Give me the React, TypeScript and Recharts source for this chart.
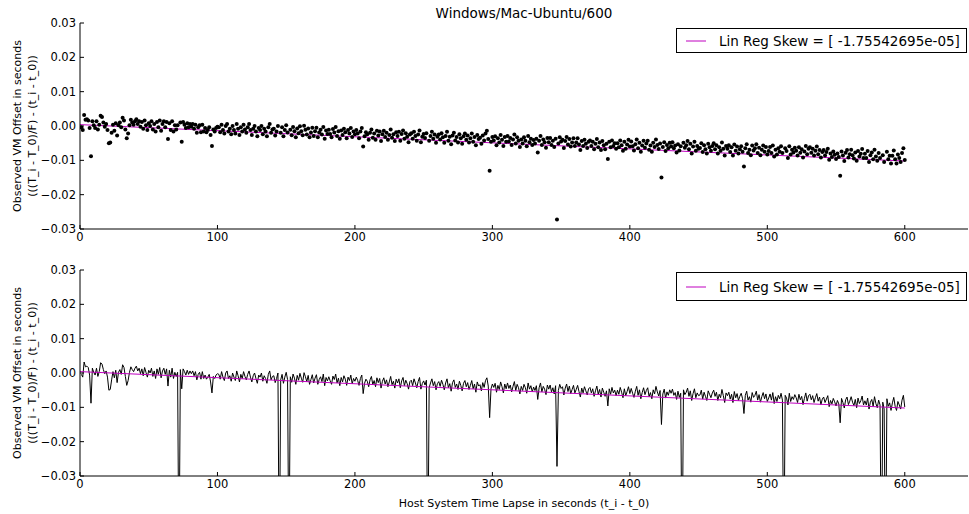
import { ComposedChart, Scatter, Line, XAxis, YAxis, Legend } from 'recharts'

// observed VM offset (s), one sample per second of host time
const offsets = [
  -0.0004, -0.0012, 0.0032, 0.0018, 0.002, 0.0016, -0.0006, -0.0088, 0.0014, 0.0002,
  -0.0006, 0.0014, -0.001, 0.0004, 0.003, 0.0026, 0.001, -0.0002, 0.0006, -0.0012,
  -0.005, -0.0048, -0.002, 0.0004, -0.0014, 0.0008, -0.0028, 0.0002, 0.001, -0.0004,
  0.0024, 0.0016, -0.001, -0.0036, -0.0022, 0.0002, 0.0018, 0.001, 0.0004, 0.0014,
  0.002, 0.0006, 0.0014, -0.0002, 0.0012, -0.0008, 0.0016, 0.0002, -0.0012, 0.0008,
  0.0, 0.0014, -0.001, 0.0006, -0.0016, 0.0012, -0.0004, 0.0016, -0.0014, 0.0006,
  0.0014, -0.0004, 0.0012, -0.0038, 0.0008, -0.0012, 0.0014, -0.0016, 0.0002, -0.001,
  0.0002, -0.06, 0.001, -0.0046, 0.0012, 0.0004, -0.0006, 0.0008, -0.0004, 0.0006,
  -0.0002, 0.0006, -0.0008, 0.0004, -0.002, -0.0004, 0.0002, -0.0018, 0.0004, -0.0016,
  -0.0006, -0.0018, -0.0012, -0.0004, -0.0026, -0.0058, -0.001, -0.0016, -0.0006, -0.0002,
  -0.0004, -0.0018, 0.0004, -0.0012, -0.0022, 0.0, 0.0006, -0.0016, -0.0008, -0.0024,
  0.0, -0.0012, -0.0022, 0.0006, -0.0008, -0.0026, -0.0004, -0.0016, 0.0004, -0.001,
  -0.002, -0.0004, 0.0006, -0.0012, -0.0026, -0.0008, 0.0, -0.0016, -0.003, -0.0006,
  -0.0012, 0.0, -0.0024, -0.0008, -0.0016, -0.003, -0.0004, 0.0006, -0.002, -0.001,
  -0.0008, -0.0028, -0.0016, 0.0, -0.06, -0.002, -0.0004, -0.003, -0.0012, 0.0002,
  -0.0019, -0.06, -0.0011, -0.0027, -0.0003, -0.0015, -0.0033, -0.0007, -0.0021, -0.0001,
  -0.0015, -0.0027, 0.0001, -0.0011, -0.0025, -0.0007, -0.0033, -0.0019, -0.0005, -0.0029,
  -0.0015, -0.0005, -0.0033, -0.0019, -0.0011, -0.0025, -0.0003, -0.0037, -0.0013, -0.0023,
  -0.0011, -0.0023, -0.0033, -0.0009, -0.0019, -0.0003, -0.0029, -0.0015, -0.0037, -0.0013,
  -0.0026, -0.0008, -0.0018, -0.0036, -0.0012, -0.0022, -0.0006, -0.0032, -0.0016, -0.0024,
  -0.0012, -0.0022, -0.0036, -0.0016, -0.0006, -0.006, -0.003, -0.0018, -0.0024, -0.004,
  -0.002, -0.001, -0.0034, -0.0022, -0.004, -0.0014, -0.0028, -0.0016, -0.0044, -0.0024,
  -0.0014, -0.0032, -0.002, -0.004, -0.0026, -0.001, -0.0034, -0.0024, -0.0044, -0.0018,
  -0.0029, -0.0017, -0.0043, -0.0023, -0.0013, -0.0037, -0.0021, -0.0031, -0.0047, -0.0025,
  -0.0021, -0.0037, -0.0017, -0.0029, -0.0043, -0.0025, -0.0013, -0.0047, -0.0031, -0.0023,
  -0.0035, -0.0021, -0.06, -0.0043, -0.0029, -0.0017, -0.0037, -0.0025, -0.0049, -0.0031,
  -0.0025, -0.0039, -0.0021, -0.0033, -0.0049, -0.0029, -0.0017, -0.0043, -0.0031, -0.0053,
  -0.0028, -0.002, -0.0042, -0.0032, -0.0048, -0.0024, -0.0036, -0.0052, -0.003, -0.0022,
  -0.004, -0.0028, -0.0048, -0.0036, -0.0022, -0.0046, -0.0032, -0.0056, -0.0026, -0.0038,
  -0.0034, -0.0052, -0.0028, -0.0042, -0.0022, -0.0014, -0.0038, -0.013, -0.0046, -0.0032,
  -0.0042, -0.003, -0.0056, -0.0036, -0.0048, -0.0026, -0.004, -0.0058, -0.0032, -0.0046,
  -0.0029, -0.0045, -0.0035, -0.0055, -0.0039, -0.0025, -0.0051, -0.0033, -0.0043, -0.0061,
  -0.0039, -0.0051, -0.0033, -0.0043, -0.0059, -0.0029, -0.0047, -0.0037, -0.0055, -0.0041,
  -0.0051, -0.0037, -0.0077, -0.0043, -0.0029, -0.0055, -0.0039, -0.0047, -0.0063, -0.0035,
  -0.0047, -0.0035, -0.0055, -0.0043, -0.0061, -0.0037, -0.0272, -0.0051, -0.0033, -0.0045,
  -0.004, -0.0064, -0.0044, -0.0032, -0.0054, -0.0038, -0.006, -0.0048, -0.0036, -0.0058,
  -0.0048, -0.0036, -0.0054, -0.007, -0.0044, -0.0058, -0.004, -0.0052, -0.0064, -0.0046,
  -0.0042, -0.0058, -0.0046, -0.0068, -0.0052, -0.0038, -0.0062, -0.0048, -0.007, -0.0044,
  -0.0056, -0.0068, -0.0052, -0.0096, -0.0046, -0.0062, -0.0042, -0.0058, -0.005, -0.0066,
  -0.005, -0.0062, -0.0042, -0.0056, -0.0072, -0.0046, -0.0066, -0.0054, -0.004, -0.006,
  -0.0045, -0.0059, -0.0071, -0.0053, -0.0039, -0.0065, -0.0049, -0.0075, -0.0057, -0.0043,
  -0.0063, -0.0051, -0.0043, -0.0069, -0.0057, -0.0075, -0.0049, -0.0061, -0.0039, -0.0055,
  -0.0067, -0.0051, -0.015, -0.0061, -0.0047, -0.0073, -0.0055, -0.0065, -0.0049, -0.0059,
  -0.0047, -0.0065, -0.0057, -0.0077, -0.0053, -0.0071, -0.0059, -0.06, -0.0049, -0.0063,
  -0.0056, -0.0044, -0.0068, -0.0052, -0.008, -0.006, -0.0046, -0.0072, -0.0058, -0.0066,
  -0.0064, -0.005, -0.0076, -0.0056, -0.0068, -0.008, -0.0052, -0.0062, -0.0072, -0.0058,
  -0.005, -0.0068, -0.0056, -0.008, -0.0062, -0.0072, -0.0048, -0.0066, -0.0086, -0.0058,
  -0.0066, -0.0056, -0.0076, -0.0062, -0.0086, -0.0054, -0.0072, -0.006, -0.008, -0.0068,
  -0.0059, -0.0075, -0.0118, -0.0065, -0.0053, -0.0079, -0.0069, -0.0085, -0.0057, -0.0071,
  -0.0065, -0.0053, -0.0079, -0.0063, -0.0085, -0.0069, -0.0057, -0.0075, -0.0061, -0.0083,
  -0.0073, -0.0061, -0.0079, -0.0057, -0.0089, -0.0069, -0.0083, -0.0065, -0.0075, -0.0059,
  -0.0079, -0.06, -0.0065, -0.0073, -0.0093, -0.0059, -0.0083, -0.0069, -0.0077, -0.0063,
  -0.0072, -0.0086, -0.0062, -0.0078, -0.0068, -0.0092, -0.0074, -0.0058, -0.0082, -0.0066,
  -0.0062, -0.0078, -0.0066, -0.0086, -0.0072, -0.006, -0.0082, -0.007, -0.0092, -0.0076,
  -0.007, -0.0086, -0.0076, -0.0066, -0.0098, -0.008, -0.009, -0.0074, -0.0084, -0.0096,
  -0.008, -0.009, -0.0145, -0.0074, -0.0086, -0.0102, -0.0078, -0.007, -0.0092, -0.0082,
  -0.0069, -0.0085, -0.0095, -0.0077, -0.0101, -0.0073, -0.0089, -0.0081, -0.0067, -0.0093,
  -0.0081, -0.0093, -0.0073, -0.0105, -0.0085, -0.0077, -0.0097, -0.0069, -0.0089, -0.0101,
  -0.0079, -0.0093, -0.06, -0.0085, -0.0105, -0.06, -0.0075, -0.0097, -0.0087, -0.0109,
  -0.0087, -0.0071, -0.0097, -0.0109, -0.0083, -0.0093, -0.0105, -0.0079, -0.0065, -0.0099,
]
const hostTime = offsets.map((_, i) => i + 1)

// linear regression line end points
const fitTime = [0, 600]
const fitOffset = [0.0004, -0.0102]

const xTicks = [0, 100, 200, 300, 400, 500, 600]
const yTicks = [-0.03, -0.02, -0.01, 0, 0.01, 0.02, 0.03]

const title = 'Windows/Mac-Ubuntu/600'
const fitLabel = 'Lin Reg Skew = [ -1.75542695e-05]'
const yLabelLines = ['Observed VM Offset in seconds', '(((T_i - T_0)/F) - (t_i - t_0))']
const xLabel = 'Host System Time Lapse in seconds (t_i - t_0)'

const rows = hostTime.map((t, i) => ({ t, offset: offsets[i] }))
const fitRows = fitTime.map((t, i) => ({ t, fit: fitOffset[i] }))

const FONT = 'DejaVu Sans'
const MAGENTA = '#bf00bf'
const tickStyle = { fontSize: 11.5, fill: '#000', fontFamily: FONT }

const fmtY = (v: number) => (v < 0 ? '\u2212' : '') + Math.abs(v).toFixed(2)

function renderYLabel(props: any) {
  const vb = props.viewBox || { y: 0, height: 0 }
  const cy = vb.y + vb.height / 2
  return (
    <g>
      {yLabelLines.map((line, i) => (
        <text
          key={i}
          x={16.7 + i * 15}
          y={cy}
          dy="0.35em"
          transform={`rotate(-90 ${16.7 + i * 15} ${cy})`}
          textAnchor="middle"
          fontSize={11}
          fontFamily={FONT}
          fill="#000"
        >
          {line}
        </text>
      ))}
    </g>
  )
}

function renderXLabel(props: any) {
  const vb = props.viewBox || { x: 0, y: 0, width: 0 }
  return (
    <text x={vb.x + vb.width / 2} y={vb.y + 30.5} textAnchor="middle" fontSize={11} fontFamily={FONT} fill="#000">
      {xLabel}
    </text>
  )
}

function makeLegend(height: number) {
  return (props: any) => {
    const label = props.payload?.[0]?.value ?? fitLabel
    return (
      <div
        style={{
          boxSizing: 'border-box',
          width: 291,
          height,
          border: '1px solid #000',
          background: '#fff',
          display: 'flex',
          alignItems: 'center',
          fontFamily: FONT,
          fontSize: 13.5,
          color: '#000',
          whiteSpace: 'nowrap',
        }}
      >
        <svg width={42} height={10} style={{ flex: 'none' }}>
          <line x1={9} x2={29} y1={5} y2={5} stroke={MAGENTA} strokeWidth={1} />
        </svg>
        <span>{label}</span>
      </div>
    )
  }
}

type PanelProps = {
  kind: 'scatter' | 'line'
  top: number
  height: number
  marginTop: number
  xAxisHeight: number
  legendTop: number
  legendHeight: number
  showXLabel: boolean
}

function Panel({ kind, top, height, marginTop, xAxisHeight, legendTop, legendHeight, showXLabel }: PanelProps) {
  return (
    <div style={{ position: 'absolute', left: 0, top, width: 969, height }}>
      <ComposedChart width={969} height={height} margin={{ top: marginTop, right: 1, bottom: 0, left: 0 }}>
        <XAxis
          xAxisId="b"
          dataKey="t"
          type="number"
          domain={[0, 646]}
          ticks={xTicks}
          interval={0}
          allowDataOverflow
          height={xAxisHeight}
          stroke="#000"
          tickSize={-4}
          tickMargin={8}
          tick={tickStyle}
          label={showXLabel ? { content: renderXLabel } : undefined}
        />
        <XAxis
          xAxisId="t"
          orientation="top"
          type="number"
          domain={[0, 646]}
          ticks={xTicks}
          interval={0}
          allowDataOverflow
          height={0}
          stroke="#000"
          tickSize={-4}
          tick={false}
        />
        <YAxis
          yAxisId="l"
          type="number"
          domain={[-0.03, 0.03]}
          ticks={yTicks}
          interval={0}
          allowDataOverflow
          width={80}
          stroke="#000"
          tickSize={-4}
          tickMargin={8}
          tick={tickStyle}
          tickFormatter={fmtY}
          label={{ content: renderYLabel }}
        />
        <YAxis
          yAxisId="r"
          orientation="right"
          type="number"
          domain={[-0.03, 0.03]}
          ticks={yTicks}
          interval={0}
          allowDataOverflow
          width={0}
          stroke="#000"
          tickSize={-4}
          tick={false}
        />
        {kind === 'scatter' ? (
          <Scatter
            xAxisId="b"
            yAxisId="l"
            data={rows}
            dataKey="offset"
            legendType="none"
            isAnimationActive={false}
            shape={(p: any) => <circle cx={p.cx} cy={p.cy} r={2} fill="#000" />}
          />
        ) : (
          <Line
            xAxisId="b"
            yAxisId="l"
            data={rows}
            dataKey="offset"
            type="linear"
            stroke="#000"
            strokeWidth={1}
            dot={false}
            legendType="none"
            isAnimationActive={false}
          />
        )}
        <Line
          xAxisId="b"
          yAxisId="l"
          data={fitRows}
          dataKey="fit"
          name={fitLabel}
          type="linear"
          stroke={MAGENTA}
          strokeWidth={1}
          dot={false}
          isAnimationActive={false}
        />
        <Legend
          layout="horizontal"
          verticalAlign="middle"
          align="center"
          wrapperStyle={{ top: legendTop, left: 676, width: 291 }}
          content={makeLegend(legendHeight)}
        />
      </ComposedChart>
    </div>
  )
}

export default function App() {
  return (
    <div style={{ position: 'absolute', left: 0, top: 0, width: 969, height: 514, background: '#fff', fontFamily: FONT }}>
      <div
        style={{
          position: 'absolute',
          left: 80,
          width: 888,
          top: 5,
          lineHeight: '16px',
          textAlign: 'center',
          fontSize: 13.5,
          color: '#000',
        }}
      >
        {title}
      </div>
      <Panel kind="scatter" top={0} height={250} marginTop={23} xAxisHeight={21} legendTop={28} legendHeight={25} showXLabel={false} />
      <Panel kind="line" top={250} height={264} marginTop={20} xAxisHeight={38} legendTop={22} legendHeight={29} showXLabel />
    </div>
  )
}
